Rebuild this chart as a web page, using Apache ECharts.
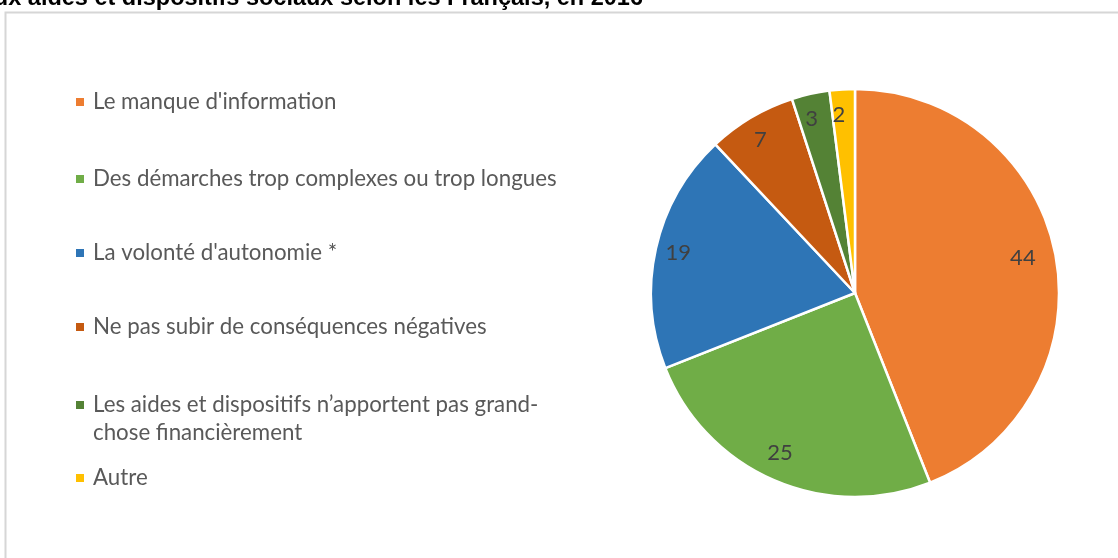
<!DOCTYPE html>
<html><head><meta charset="utf-8">
<script src="https://cdn.jsdelivr.net/npm/echarts@6/dist/echarts.min.js"></script>
<style>html,body{margin:0;padding:0;background:#fff}#c{width:1118px;height:558px}</style>
</head><body><div id="c"></div>
<script>
const titleText = "Raisons du non-recours aux aides et dispositifs sociaux selon les Français, en 2016";
const categories = [
  "Le manque d'information",
  "Des démarches trop complexes ou trop longues",
  "La volonté d'autonomie *",
  "Ne pas subir de conséquences négatives",
  "Les aides et dispositifs n\u2019apportent pas grand-\nchose financièrement",
  "Autre"
];
const values = [44, 25, 19, 7, 3, 2];
const colors = ["#ED7D31", "#70AD47", "#2E75B6", "#C55A11", "#548235", "#FFC000"];

const data = categories.map((n, i) => ({ name: n, value: values[i], itemStyle: { color: colors[i] } }));
const labelData = categories.map((n, i) => ({ name: n, value: values[i] }));

// legend icon vertical centres (layout)
const legendCenters = [102, 179, 253, 327, 405, 478];
const legends = categories.map((n, i) => {
  const twoLine = n.indexOf('\n') >= 0;
  return {
    orient: 'vertical',
    left: 69,
    top: twoLine ? legendCenters[i] - 42 - 5 : legendCenters[i] - 14 - 5,
    itemWidth: 10,
    itemHeight: 10,
    icon: 'rect',
    selectedMode: false,
    data: [n],
    formatter: twoLine ? (name => '\u00a0\n' + name) : (name => name),
    textStyle: {
      fontFamily: 'Lato', fontSize: 22.3, color: '#595959', lineHeight: 28,
      padding: [0, 0, 0, 3]
    }
  };
});

const chart = echarts.init(document.getElementById('c'), null, { renderer: 'canvas' });
chart.setOption({
  animation: false,
  backgroundColor: '#fff',
  graphic: [
    { type: 'rect', shape: { x: 5.5, y: 12.5, width: 1200, height: 700 }, style: { fill: 'none', stroke: '#d6d6d6', lineWidth: 2 }, z: 0 },
    { type: 'text', x: 643, y: 11, style: { text: titleText, textAlign: 'right', textVerticalAlign: 'bottom', font: 'bold 23.5px "Liberation Sans", Arial, sans-serif', fill: '#000' }, z: 10 }
  ],
  legend: legends,
  series: [
    {
      type: 'pie',
      center: [855, 293],
      radius: [0, 204],
      startAngle: 90,
      clockwise: true,
      silent: true,
      label: { show: false },
      labelLine: { show: false },
      itemStyle: { borderColor: '#fff', borderWidth: 2.5 },
      data: data
    },
    {
      type: 'pie',
      center: [855, 293],
      radius: [140, 206],
      startAngle: 90,
      clockwise: true,
      silent: true,
      itemStyle: { color: 'rgba(0,0,0,0)' },
      label: { show: true, position: 'inside', formatter: '{c}', fontFamily: 'Lato', fontSize: 22, color: '#404040', offset: [-5, -2] },
      labelLine: { show: false },
      data: labelData
    }
  ]
});
</script>
</body></html>
